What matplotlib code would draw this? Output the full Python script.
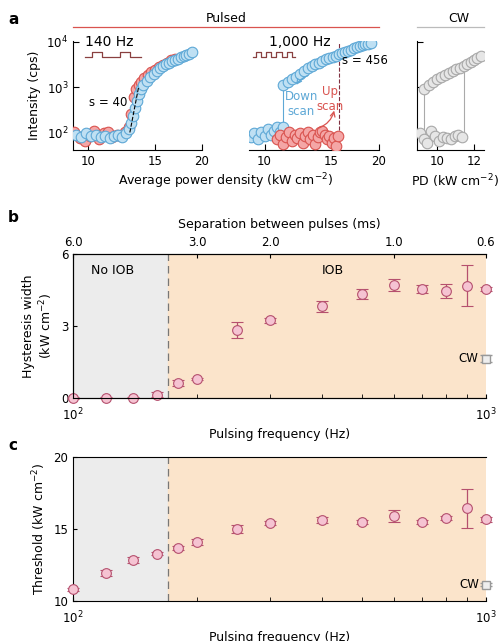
import matplotlib
matplotlib.use("Agg")
import matplotlib.pyplot as plt
from matplotlib.ticker import FixedLocator, NullLocator, FixedFormatter, NullFormatter
import numpy as np

# ---------- data ----------
up140_x = [9.2,9.5,9.8,10.1,10.4,10.7,11,11.3,11.6,11.9,12.2,12.5,12.8,13.0,13.2,13.4,13.6,13.8,14.1,14.4,14.7,15.0,15.4,15.8,16.2,16.6,17.0]
up140_y = [100,75,65,85,110,70,95,100,80,90,85,100,130,250,600,900,1100,1300,1600,1900,2200,2400,2800,3100,3500,3900,4300]
dn140_x = [9.3,9.6,9.9,10.2,10.5,10.8,11.1,11.4,11.7,12.0,12.3,12.6,12.8,13.0,13.15,13.3,13.45,13.6,13.8,14.0,14.3,14.6,14.9,15.2,15.5,15.8,16.1,16.4,16.7,17.0,17.3,17.6,17.9,18.2,18.5,18.8]
dn140_y = [90,80,95,85,90,80,85,75,85,90,80,95,120,160,230,350,500,700,900,1100,1400,1700,2000,2300,2600,2900,3200,3500,3800,4000,4300,4600,4900,5200,5500,5900]
dnhi1k_x = [11.2,11.5,11.8,12.1,12.4,12.7,13.0,13.3,13.6,13.9,14.2,14.5,14.8,15.1,15.4,15.7,16.0,16.3,16.6,16.9,17.2,17.5,17.8,18.1,18.4,18.7,19.0]
dnhi1k_y = [1100,1300,1500,1700,2000,2300,2600,2900,3200,3500,3800,4100,4400,4700,5000,5300,5700,6000,6400,6800,7200,7600,8000,8400,8800,9200,9700]
dnlo1k_x = [9.2,9.4,9.6,9.8,10.0,10.2,10.4,10.6,10.8,11.0,11.2]
dnlo1k_y = [80,95,70,105,85,120,90,110,130,100,130]
up1k_x = [10.8,11.0,11.2,11.4,11.6,11.8,12.0,12.2,12.4,12.6,12.8,13.0,13.2,13.4,13.6,13.8,14.0,14.2,14.4,14.6,14.8,15.0,15.2,15.4,15.6]
up1k_y = [70,90,55,80,100,65,90,75,95,60,85,100,70,90,55,80,100,110,90,70,85,60,75,50,85]
cwhi_x = [9.4,9.6,9.8,10,10.2,10.4,10.6,10.8,11,11.2,11.4,11.6,11.8,12.0,12.2,12.4]
cwhi_y = [900,1100,1300,1500,1700,1900,2100,2300,2500,2700,3000,3300,3600,4000,4400,5000]
cwlo_x = [9.2,9.4,9.5,9.7,9.9,10.1,10.3,10.5,10.7,10.9,11.1,11.3]
cwlo_y = [95,70,60,110,85,65,80,75,70,85,90,80]

freq = [100,120,140,160,180,200,250,300,400,500,600,700,800,900,1000]
hyst = [0.0,0.02,0.02,0.14,0.63,0.79,2.83,3.24,3.82,4.33,4.71,4.54,4.46,4.68,4.53]
hyst_err = [0.03,0.03,0.03,0.1,0.12,0.06,0.35,0.1,0.22,0.22,0.25,0.15,0.3,0.85,0.08]
thr = [10.8,11.97,12.85,13.27,13.67,14.12,15.0,15.43,15.64,15.47,15.9,15.5,15.75,16.45,15.66]
thr_err = [0.1,0.2,0.2,0.1,0.15,0.2,0.3,0.15,0.22,0.15,0.4,0.15,0.15,1.35,0.15]
cw_hyst, cw_hyst_err = 1.63, 0.15
cw_thr, cw_thr_err = 11.14, 0.1
sep_ticks = [6.0, 3.0, 2.0, 1.0, 0.6]

# ---------- style ----------
RED_F, RED_E = '#f4a6a6', '#d9534f'
BLU_F, BLU_E = '#bfe0f3', '#5ea8d6'
PNK_F, PNK_E = '#f5c3d2', '#b5506e'
GRY_BG, ORG_BG = '#ececec', '#fbe4cb'
plt.rcParams['font.family'] = 'DejaVu Sans'
plt.rcParams['font.size'] = 8.5

W, H = 500, 641
fig = plt.figure(figsize=(5, 6.41), dpi=100)
def ax_px(x0, y0, x1, y1):
    return fig.add_axes([x0/W, 1-y1/H, (x1-x0)/W, (y1-y0)/H])

def style_a(ax, xlim, xticks):
    ax.set_xscale('log'); ax.set_yscale('log')
    ax.set_xlim(*xlim); ax.set_ylim(41, 1.05e4)
    ax.xaxis.set_major_locator(FixedLocator(xticks))
    ax.xaxis.set_major_formatter(FixedFormatter([str(t) for t in xticks]))
    ax.xaxis.set_minor_locator(NullLocator())
    ax.yaxis.set_minor_locator(NullLocator())
    ax.set_yticks([100, 1000, 10000])
    for s in ['top', 'right']:
        ax.spines[s].set_visible(False)
    ax.tick_params(direction='in', length=4, labelsize=8.5)

mk = dict(s=58, linewidths=0.8, zorder=3)

def pulse(ax, x0, x1, n, dx_on):
    # schematic pulse train icon in axes coordinates
    xs, ys = [x0], [0.855]
    period = (x1 - x0) / n
    for i in range(n):
        s = x0 + i*period + period*0.25
        xs += [s, s, s+dx_on, s+dx_on]
        ys += [0.855, 0.895, 0.895, 0.855]
    xs.append(x1); ys.append(0.855)
    ax.plot(xs, ys, transform=ax.transAxes, color='#8a4040', lw=0.9, clip_on=False)

# panel a
a1 = ax_px(73, 41, 202, 150)
style_a(a1, (9.13, 20), [10, 15, 20])
a1.scatter(up140_x, up140_y, c=RED_F, edgecolors=RED_E, **mk)
a1.scatter(dn140_x, dn140_y, c=BLU_F, edgecolors=BLU_E, **mk)
a1.plot([12.9, 13.6], [100, 1000], ls='--', color='k', lw=0.8, zorder=4)
a1.text(11.3, 450, 's = 40', fontsize=8.5, ha='center', va='center')
a1.text(11.4, 1e4, '140 Hz', fontsize=10, ha='center', va='center')
a1.set_ylabel('Intensity (cps)', fontsize=9)
pulse(a1, 0.09, 0.53, 2, 0.08)

a2 = ax_px(249, 41, 379, 150)
style_a(a2, (9.1, 20), [10, 15, 20])
a2.set_yticklabels([])
a2.spines['left'].set_visible(False); a2.tick_params(axis='y', length=0)
a2.plot([11.2, 11.2], [130, 1100], color=BLU_E, lw=0.8, zorder=2)
a2.plot([15.7, 15.7], [85, 1e4], color='#803040', lw=0.8, ls='--', zorder=2)
a2.scatter(dnlo1k_x, dnlo1k_y, c=BLU_F, edgecolors=BLU_E, **mk)
a2.scatter(up1k_x, up1k_y, c=RED_F, edgecolors=RED_E, **mk)
a2.scatter(dnhi1k_x, dnhi1k_y, c=BLU_F, edgecolors=BLU_E, **mk)
a2.text(12.4, 1e4, '1,000 Hz', fontsize=10, ha='center', va='center')
a2.text(16.0, 3800, 's = 456', fontsize=8.5, ha='left', va='center')
a2.text(12.5, 430, 'Down\nscan', color=BLU_E, fontsize=8.5, ha='center', va='center')
a2.text(14.9, 550, 'Up\nscan', color=RED_E, fontsize=8.5, ha='center', va='center')
a2.annotate('', xy=(12.0, 1000), xytext=(13.2, 1900),
            arrowprops=dict(arrowstyle='->', color=BLU_E, connectionstyle='arc3,rad=0.2', lw=0.9))
a2.annotate('', xy=(15.3, 350), xytext=(13.7, 120),
            arrowprops=dict(arrowstyle='->', color=RED_E, connectionstyle='arc3,rad=0.3', lw=0.9))
pulse(a2, 0.03, 0.35, 4, 0.04)

a3 = ax_px(417, 41, 484, 150)
style_a(a3, (9.06, 12.6), [10, 12])
a3.set_yticklabels([])
a3.plot([9.4, 9.4], [70, 900], color='#aaaaaa', lw=0.8, zorder=2)
a3.plot([11.4, 11.4], [80, 3000], color='#aaaaaa', lw=0.8, zorder=2)
a3.scatter(cwlo_x, cwlo_y, c='#e6e6e6', edgecolors='#a8a8a8', **mk)
a3.scatter(cwhi_x, cwhi_y, c='#e6e6e6', edgecolors='#a8a8a8', **mk)

fig.text(226/W, 1-181/H, 'Average power density (kW cm$^{-2}$)', ha='center', va='center', fontsize=9)
fig.text(455/W, 1-181/H, 'PD (kW cm$^{-2}$)', ha='center', va='center', fontsize=9)
fig.text(226/W, 1-19/H, 'Pulsed', ha='center', va='center', fontsize=9)
fig.text(459/W, 1-19/H, 'CW', ha='center', va='center', fontsize=9)
fig.add_artist(plt.Line2D([73/W, 379/W], [1-27/H]*2, color=RED_E, lw=0.9))
fig.add_artist(plt.Line2D([417/W, 484/W], [1-27/H]*2, color='#bbbbbb', lw=0.9))
for lab, y in [('a', 19), ('b', 218), ('c', 445)]:
    fig.text(8/W, 1-y/H, lab, fontsize=11, fontweight='bold', va='center')

def style_bc(ax, ylim, yticks):
    ax.set_xscale('log'); ax.set_xlim(100, 1000); ax.set_ylim(*ylim)
    ax.axvspan(100, 170, color=GRY_BG, zorder=0)
    ax.axvspan(170, 1000, color=ORG_BG, zorder=0)
    ax.axvline(170, color='#777777', ls=(0, (6, 4)), lw=0.9, zorder=1)
    ax.set_xticks([100, 1000]); ax.set_xticklabels(['10$^2$', '10$^3$'])
    ax.xaxis.set_minor_locator(FixedLocator([200, 300, 400, 500, 600, 700, 800, 900]))
    ax.xaxis.set_minor_formatter(NullFormatter())
    ax.set_yticks(yticks); ax.set_yticklabels([str(t) for t in yticks])
    ax.tick_params(direction='in', which='both', length=3, labelsize=8.5)
    ax.tick_params(axis='x', pad=6)
    for s in ['right']:
        ax.spines[s].set_visible(False)
    ax.set_xlabel('Pulsing frequency (Hz)', fontsize=9)

eb = dict(fmt='o', ms=7, mfc=PNK_F, mec=PNK_E, mew=0.8, ecolor=PNK_E, elinewidth=0.9, capsize=4, capthick=0.9, zorder=3, clip_on=False)

b = ax_px(73, 254, 486, 398)
style_bc(b, (0, 6), [0, 3, 6])
b.errorbar(freq, hyst, yerr=hyst_err, **eb)
b.errorbar([1000], [cw_hyst], yerr=[cw_hyst_err], fmt='s', ms=6, mfc='#eeeeee', mec='#999999',
           ecolor='#999999', capsize=4, zorder=4, clip_on=False)
b.text(960, cw_hyst, 'CW', ha='right', va='center', fontsize=8.5)
b.text(125, 5.3, 'No IOB', ha='center', va='center', fontsize=9)
b.text(425, 5.3, 'IOB', ha='center', va='center', fontsize=9)
b.set_ylabel('Hysteresis width\n(kW cm$^{-2}$)', fontsize=9)
bt = b.twiny()
bt.set_xscale('log'); bt.set_xlim(100, 1000)
bt.set_xticks([600/s for s in sep_ticks]); bt.set_xticklabels([f'{s:.1f}' for s in sep_ticks])
bt.xaxis.set_minor_locator(NullLocator())
bt.tick_params(direction='in', length=3, labelsize=8.5)
bt.spines['right'].set_visible(False)
bt.set_xlabel('Separation between pulses (ms)', fontsize=9, labelpad=6)

c = ax_px(73, 457, 486, 601)
style_bc(c, (10, 20), [10, 15, 20])
c.errorbar(freq, thr, yerr=thr_err, **eb)
c.errorbar([1000], [cw_thr], yerr=[cw_thr_err], fmt='s', ms=6, mfc='#eeeeee', mec='#999999',
           ecolor='#999999', capsize=4, zorder=4, clip_on=False)
c.text(965, cw_thr, 'CW', ha='right', va='center', fontsize=8.5)
c.set_ylabel('Threshold (kW cm$^{-2}$)', fontsize=9)

fig.savefig('out.png', dpi=100)
